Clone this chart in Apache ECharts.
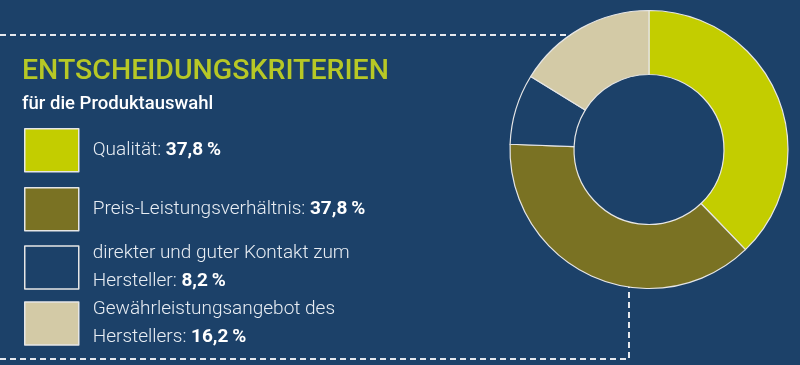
<!DOCTYPE html>
<html><head><meta charset="utf-8">
<script src="https://cdn.jsdelivr.net/npm/echarts@6/dist/echarts.min.js"></script>
<style>html,body{margin:0;padding:0;background:#1c4169;}#c{width:800px;height:365px;}</style>
</head><body><div id="c"></div>
<script>
const categories = ['Qualität', 'Preis-Leistungsverhältnis', 'direkter und guter Kontakt zum\nHersteller', 'Gewährleistungsangebot des\nHerstellers'];
const values = [37.8, 37.8, 8.2, 16.2];
const colors = ['#c3cd00', '#7a7223', '#1c4169', '#d3caa6'];
const titleText = 'ENTSCHEIDUNGSKRITERIEN';
const subtitleText = 'für die Produktauswahl';

const fmt = v => v.toFixed(1).replace('.', ',') + '\u2009%';
const boxTops = [128, 187, 246, 302];
const chart = echarts.init(document.getElementById('c'));
const legends = categories.map((c, i) => {
  const lines = c.split('\n').length;
  const h = Math.max(43, lines * 28);
  return {
    orient: 'vertical', left: 19, top: boxTops[i] - 5 - (h - 43) / 2,
    data: [c], itemWidth: 54, itemHeight: 43, icon: 'rect',
    itemStyle: { borderColor: '#e6e6e6', borderWidth: 1.5 },
    formatter: function (name) {
      const k = categories.indexOf(name);
      return '{n|' + name + ': }{b|' + fmt(values[k]) + '}';
    },
    textStyle: {
      color: '#e8edf3', fontFamily: 'Roboto', fontSize: 19, lineHeight: 28, padding: [0, 0, 0, 9],
      rich: {
        n: { color: '#e8edf3', fontFamily: 'Roboto', fontSize: 19, fontWeight: 300, lineHeight: 28 },
        b: { color: '#ffffff', fontFamily: 'Roboto', fontSize: 19, fontWeight: 'bold', lineHeight: 28 }
      }
    }
  };
});
chart.setOption({
  backgroundColor: '#1c4169',
  animation: false,
  title: {
    text: titleText, subtext: subtitleText, left: 17, top: 52, itemGap: 9,
    textStyle: { color: '#b7c826', fontFamily: 'Roboto', fontSize: 28.5, fontWeight: 500 },
    subtextStyle: { color: '#ffffff', fontFamily: 'Roboto', fontSize: 18.5, fontWeight: 500 }
  },
  legend: legends,
  graphic: [
    { type: 'polyline', z: 0, shape: { points: [[0, 35], [590, 35]] }, style: { stroke: '#e6e9ee', lineWidth: 2, lineDash: [6, 4], fill: null } },
    { type: 'polyline', z: 0, shape: { points: [[0, 359], [629, 359], [629, 285]] }, style: { stroke: '#e6e9ee', lineWidth: 2, lineDash: [6, 4], fill: null } }
  ],
  series: [{
    type: 'pie', z: 5, center: [649, 149.5], radius: [75, 139], startAngle: 90, clockwise: true,
    label: { show: false }, labelLine: { show: false }, silent: true,
    itemStyle: { borderColor: '#e6e6e6', borderWidth: 1.2 },
    data: categories.map((c, i) => ({ name: c, value: values[i], itemStyle: { color: colors[i] } }))
  }]
});
</script></body></html>
